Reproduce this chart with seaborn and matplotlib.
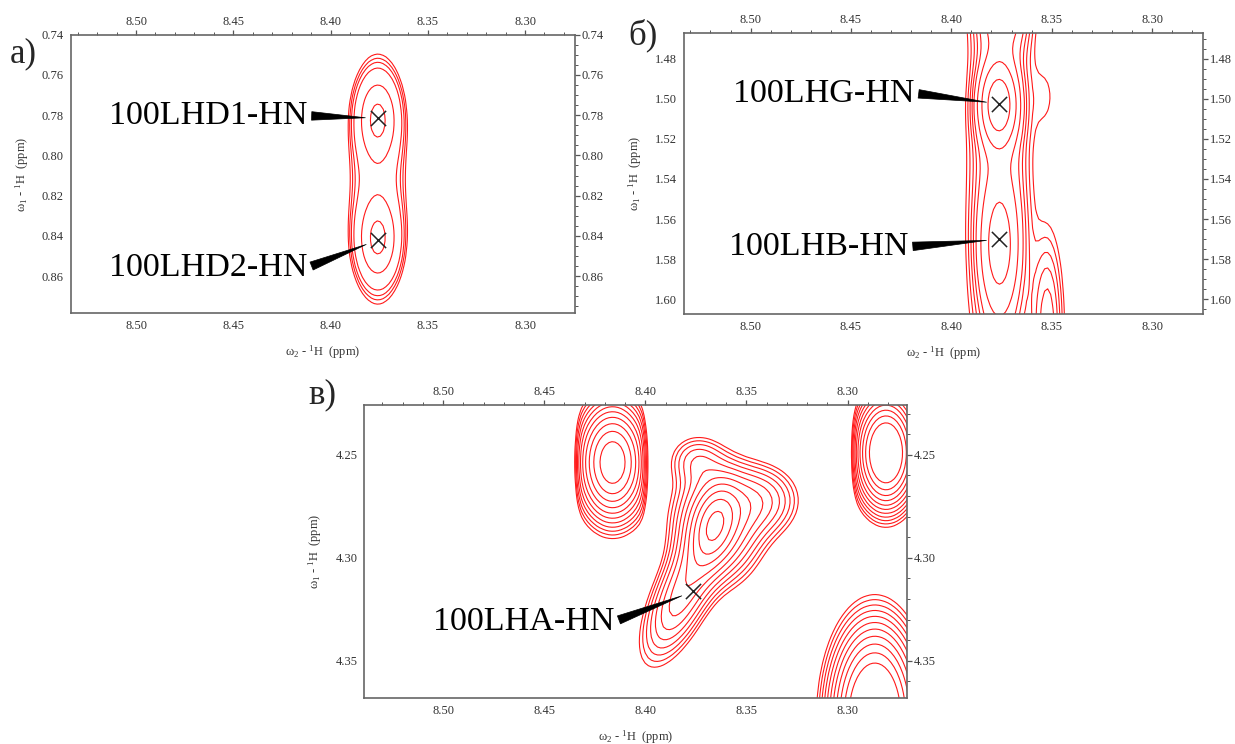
import numpy as np
import matplotlib
matplotlib.use("Agg")
import matplotlib.pyplot as plt
from matplotlib.ticker import MultipleLocator, FormatStrFormatter
import seaborn as sns

# ---------------- data (ppm) ----------------
# Panel a) : components of the contour surface
a_cx = [8.3757, 8.3757, 8.3757]
a_cy = [0.7815, 0.8420, 0.8118]
a_wx = [0.0062, 0.0062, 0.0088]
a_wy = [0.0125, 0.0125, 0.0340]
a_amp = [1.00, 1.00, 0.36]
a_levels = [0.107, 0.135, 0.17, 0.235, 0.56, 1.05]
a_names = ["100LHD1-HN", "100LHD2-HN"]
a_mark_x = [8.3757, 8.3757]
a_mark_y = [0.7815, 0.8420]
a_text_x = [8.4121, 8.4121]
a_text_y = [0.7844, 0.8600]

# Panel б)
b_cx = [8.3763, 8.3760, 8.3760, 8.3530, 8.3520, 8.3740]
b_cy = [1.5030, 1.5740, 1.5400, 1.4990, 1.6150, 1.4400]
b_wx = [0.0055, 0.0062, 0.0090, 0.0050, 0.0050, 0.0080]
b_wy = [0.0120, 0.0200, 0.0800, 0.0140, 0.0300, 0.0200]
b_amp = [1.00, 0.38, 0.25, 0.05, 0.20, 0.50]
b_levels = [0.05, 0.07, 0.095, 0.125, 0.165, 0.26, 0.45, 0.80]
b_names = ["100LHG-HN", "100LHB-HN"]
b_mark_x = [8.3763, 8.3763]
b_mark_y = [1.5025, 1.5701]
b_text_x = [8.4186, 8.4215]
b_text_y = [1.5014, 1.5779]

# Panel в)  (core, base, diagonal tail, right shoulder, top, left strip,
#            right strip, lower-right peak)
c_cx = [8.3660, 8.3640, 8.3820, 8.3420, 8.3750, 8.4162, 8.2810, 8.2865]
c_cy = [4.2840, 4.2830, 4.3180, 4.2720, 4.2520, 4.2537, 4.2490, 4.3780]
c_wx = [0.0060, 0.0130, 0.0085, 0.0120, 0.0090, 0.0101, 0.0086, 0.0120]
c_wy = [0.0120, 0.0170, 0.0220, 0.0110, 0.0080, 0.0165, 0.0153, 0.0250]
c_angle = [15, 0, 25, 0, 0, 0, 0, 0]
c_amp = [0.40, 0.60, 0.45, 0.28, 0.18, 1.22, 1.59, 1.80]
c_strip_lo = [np.nan] * 5 + [8.3996, 8.0000, np.nan]
c_strip_hi = [np.nan] * 5 + [8.4346, 8.2978, np.nan]
c_levels = [0.10, 0.126, 0.159, 0.20, 0.252, 0.318, 0.40, 0.504, 0.635, 0.80, 1.01]
c_names = ["100LHA-HN"]
c_mark_x = [8.3762]
c_mark_y = [4.3163]
c_text_x = [8.4153]
c_text_y = [4.3350]

# ---------------- style ----------------
sns.set_theme(style="white")
plt.rcParams["font.family"] = ["Liberation Serif", "DejaVu Serif"]
plt.rcParams["mathtext.fontset"] = "custom"
plt.rcParams["mathtext.rm"] = "Liberation Serif"
plt.rcParams["mathtext.it"] = "Liberation Serif:italic"

W, H = 1235, 744
fig = plt.figure(figsize=(W / 100, H / 100), dpi=100)


def surface(X, Y, cx, cy, wx, wy, amp, angle=None, lo=None, hi=None):
    Z = np.zeros_like(X)
    for i in range(len(cx)):
        t = np.deg2rad(angle[i]) if angle is not None else 0.0
        dx, dy = X - cx[i], Y - cy[i]
        v = dx * np.sin(t) + dy * np.cos(t)
        u = dx * np.cos(t) - dy * np.sin(t)
        g = amp[i] * np.exp(-0.5 * (u / wx[i]) ** 2 - 0.5 * (v / wy[i]) ** 2)
        if lo is not None and np.isfinite(lo[i]):
            e = 0.0012
            g = g / (1 + np.exp(-(X - lo[i]) / e)) / (1 + np.exp((X - hi[i]) / e))
        Z += g
    return Z


def panel(rect_px, xlim, ylim, ymaj, ymin, comps, levels, marks, texts, names):
    x0, y0, x1, y1 = rect_px
    ax = fig.add_axes([x0 / W, 1 - y1 / H, (x1 - x0) / W, (y1 - y0) / H])
    xs = np.arange(8.27 - 0.02, 8.56, 0.0015)
    ys = np.arange(min(ylim) - 0.02, max(ylim) + 0.02, 0.0025)
    X, Y = np.meshgrid(xs, ys)
    Z = surface(X, Y, *comps)
    ax.contour(X, Y, Z, levels=levels, colors="#ff1a1a", linewidths=0.8)
    sns.scatterplot(x=marks[0], y=marks[1], marker="x", s=120, color="#222222",
                    linewidth=1.1, ax=ax, legend=False, zorder=5)
    for name, tx, ty, mx, my in zip(names, texts[0], texts[1], marks[0], marks[1]):
        ax.annotate(name, xy=(mx, my), xytext=(tx, ty), textcoords="data",
                    ha="right", va="baseline", fontsize=24.5, color="black",
                    annotation_clip=False,
                    arrowprops=dict(arrowstyle="wedge,tail_width=0.25,shrink_factor=0.5",
                                    fc="black", ec="black", lw=0.5,
                                    relpos=(1.0, 0.5), shrinkA=1, shrinkB=9))
    ax.set_xlim(*xlim)
    ax.set_ylim(*ylim)
    ax.xaxis.set_major_locator(MultipleLocator(0.05))
    ax.xaxis.set_minor_locator(MultipleLocator(0.01))
    ax.yaxis.set_major_locator(MultipleLocator(ymaj))
    ax.yaxis.set_minor_locator(MultipleLocator(ymin))
    ax.xaxis.set_major_formatter(FormatStrFormatter("%.2f"))
    ax.yaxis.set_major_formatter(FormatStrFormatter("%.2f"))
    ax.tick_params(which="both", direction="out", top=True, right=True,
                   labeltop=True, labelright=True, color="#555555",
                   labelcolor="#333333", labelsize=9, pad=1.5)
    ax.tick_params(which="major", length=3.5, width=0.9)
    ax.tick_params(which="minor", length=2.2, width=0.7)
    for s in ax.spines.values():
        s.set_color("#666666")
        s.set_linewidth(1.2)
    axw, axh = x1 - x0, y1 - y0
    ax.set_xlabel("ω$_2$ - $^1$H  (ppm)", fontsize=9, color="#333333")
    ax.set_ylabel("ω$_1$ - $^1$H  (ppm)", fontsize=9, color="#333333")
    ax.xaxis.set_label_coords(0.5, -30 / axh)
    ax.yaxis.set_label_coords(-40 / axw, 0.5)
    return ax


panel((70.7, 34.7, 575, 313.3), (8.5336, 8.2743), (0.8785, 0.7400), 0.02, 0.005,
      (a_cx, a_cy, a_wx, a_wy, a_amp), a_levels,
      (a_mark_x, a_mark_y), (a_text_x, a_text_y), a_names)
panel((684, 33.3, 1203, 314), (8.5332, 8.2746), (1.6073, 1.4674), 0.02, 0.005,
      (b_cx, b_cy, b_wx, b_wy, b_amp), b_levels,
      (b_mark_x, b_mark_y), (b_text_x, b_text_y), b_names)
panel((364.4, 405.3, 907, 698), (8.5389, 8.2706), (4.3681, 4.2259), 0.05, 0.01,
      (c_cx, c_cy, c_wx, c_wy, c_amp, c_angle, c_strip_lo, c_strip_hi), c_levels,
      (c_mark_x, c_mark_y), (c_text_x, c_text_y), c_names)

fig.text(10 / W, 1 - 62 / H, "a)", fontsize=25, va="baseline", ha="left")
fig.text(628 / W, 1 - 44 / H, "б)", fontsize=25, va="baseline", ha="left")
fig.text(308 / W, 1 - 403 / H, "в)", fontsize=25, va="baseline", ha="left")

fig.savefig("out.png", dpi=100)
